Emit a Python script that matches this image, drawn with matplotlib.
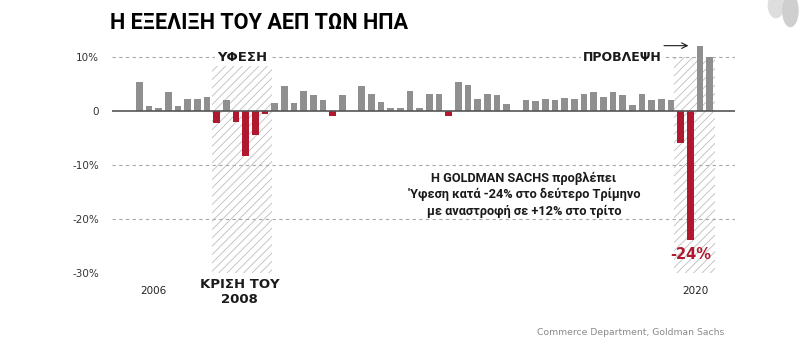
import matplotlib
matplotlib.use("Agg")
import matplotlib.pyplot as plt
from matplotlib.patches import Rectangle, Ellipse

# quarterly GDP growth, annualised (%), 2006 Q1 .. 2020 Q4 (last 3 = forecast)
gdp = [5.4, 1.0, 0.55, 3.5, 1.0, 2.3, 2.2, 2.65, -2.15, 2.0,
       -2.0, -8.3, -4.4, -0.55, 1.5, 4.6, 1.5, 3.7, 3.0, 2.0,
       -0.9, 3.0, 0.0, 4.7, 3.2, 1.7, 0.5, 0.5, 3.7, 0.5,
       3.2, 3.2, -0.9, 5.4, 4.9, 2.3, 3.2, 3.0, 1.3, 0.0,
       2.0, 1.85, 2.3, 2.0, 2.5, 2.3, 3.2, 3.5, 2.6, 3.5,
       2.9, 1.2, 3.2, 2.0, 2.3, 2.0, -5.9, -23.8, 12.1, 10.0]
yticks = [10, 0, -10, -20, -30]
ytick_labels = ["10%", "0", "-10%", "-20%", "-30%"]
year_labels = ["2006", "2020"]
year_pos = [1.5, 57.5]
recession = (7.5, 13.7)
forecast = (55.35, 59.6)

GRAY = "#8f8f8f"
RED = "#b0182f"
TXT = "#1a1a1a"

plt.rcParams['hatch.linewidth'] = 0.6
plt.rcParams['hatch.color'] = "#bdbdbd"

fig = plt.figure(figsize=(8, 3.54), dpi=100)
ax = fig.add_axes([0.1396, 0.2288, 0.779, 0.6712])

x = list(range(len(gdp)))
colors = [RED if v < 0 else GRAY for v in gdp]
ax.bar(x, gdp, width=0.69, color=colors, zorder=3)

# shaded (hatched) periods
ax.add_patch(Rectangle((recession[0], -30), recession[1] - recession[0], 38.3,
                       facecolor="white", edgecolor="#bdbdbd", hatch="////",
                       linewidth=0, zorder=1))
ax.add_patch(Rectangle((forecast[0], -30), forecast[1] - forecast[0], 40,
                       facecolor="white", edgecolor="#bdbdbd", hatch="////",
                       linewidth=0, zorder=1))

for y in [10, -10, -20]:
    ax.axhline(y, color="#a8a8a8", lw=0.8, ls=(0, (3, 3)), zorder=2)
ax.axhline(0, color="#555555", lw=1.2, zorder=4)

ax.set_xlim(-2.86, 61.62)
ax.set_ylim(-30, 14)
ax.set_yticks(yticks)
ax.set_yticklabels(ytick_labels, fontsize=7.5, color="#333333")
ax.tick_params(axis="y", length=0, pad=9)
ax.set_xticks([])
for s in ax.spines.values():
    s.set_visible(False)

bold = dict(fontweight="bold", color=TXT)
ax.text(10.6, 10, "ΥΦΕΣΗ", ha="center", va="center", fontsize=9.5,
        bbox=dict(fc="white", ec="none", pad=1.5), zorder=5, **bold)
ax.text(50.0, 10, "ΠΡΟΒΛΕΨΗ", ha="center", va="center", fontsize=9,
        bbox=dict(fc="white", ec="none", pad=1.5), zorder=5, **bold)
ax.annotate("", xy=(57.1, 12.1), xytext=(54.0, 12.1),
            arrowprops=dict(arrowstyle="->", lw=0.8, color=TXT), zorder=5)
ax.text(10.4, -30.9, "ΚΡΙΣΗ ΤΟΥ\n2008", ha="center", va="top", fontsize=9.5,
        linespacing=1.25, clip_on=False, **bold)
for lab, p in zip(year_labels, year_pos):
    ax.text(p, -33.3, lab, ha="center", va="center", fontsize=7.5,
            color="#222222", clip_on=False)

ax.text(39.8, -15.5, "Η GOLDMAN SACHS προβλέπει\n'Υφεση κατά -24% στο δεύτερο Τρίμηνο\nμε αναστροφή σε +12% στο τρίτο",
        ha="center", va="center", fontsize=9.2, linespacing=1.35,
        family="Roboto", **bold)
ax.text(57.1, -26.5, "-24%", ha="center", va="center", fontsize=10.5,
        fontweight="bold", color=RED, zorder=5)

fig.text(0.1375, 0.917, "Η ΕΞΕΛΙΞΗ ΤΟΥ ΑΕΠ ΤΩΝ ΗΠΑ", ha="left", va="baseline",
         fontsize=15.6, fontweight="bold", color="black", family="Roboto")
fig.text(0.906, 0.062, "Commerce Department, Goldman Sachs", ha="right",
         va="center", fontsize=6.7, color="#8a8a8a")

# little grey drops in the corner
fig.add_artist(Ellipse((0.97, 0.985), 0.019, 0.07, transform=fig.transFigure,
                       color="#dedede"))
fig.add_artist(Ellipse((0.988, 0.97), 0.019, 0.09, transform=fig.transFigure,
                       color="#cfcfcf"))

fig.savefig("out.png", dpi=100)
